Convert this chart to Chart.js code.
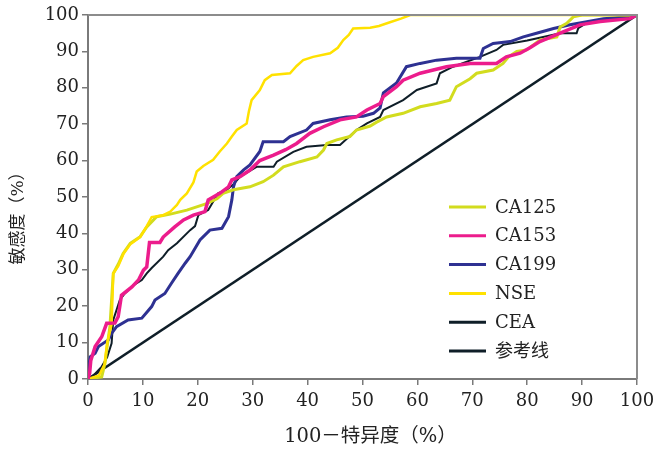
<!DOCTYPE html>
<html><head><meta charset="utf-8">
<script src="https://cdn.jsdelivr.net/npm/chart.js@4.4.0/dist/chart.umd.min.js"></script>
<style>html,body{margin:0;padding:0;background:#fff}</style>
</head><body>
<canvas id="c" width="657" height="451"></canvas>
<script>
const axisTicks = [0,10,20,30,40,50,60,70,80,90,100];
const xTitle = '100－特异度（%）';
const yTitle = '敏感度（%）';

const ca125X = [0,2.5,3.1,3.4,4,4.6,5.5,6.4,7.7,9.5,10.7,12.5,15,18,21.6,23.5,24.6,26.5,29.5,31.9,33.8,35.6,38.6,41.7,42.9,43.5,45.3,47.7,48.9,51.4,52.5,54.4,57.4,60.5,63.5,65.9,67.1,69.6,70.8,73.8,75.6,76.6,78.1,79.9,82.3,85.4,86,87.2,88.4,90,100];
const ca125Y = [0,0.6,4.3,8,14.4,29,31.5,34.5,37.3,39.1,41.8,44.6,45.3,46.4,48.2,49.5,51,52,52.8,54.2,56,58.3,59.7,61,62.9,64.7,65.7,66.6,68.4,69.5,70.5,72,73,74.8,75.7,76.6,80.3,82.5,84,84.9,86.7,88.5,90,90.4,93.1,94,96.7,97.7,99.5,100,100];

const ca153X = [0,0.3,0.5,1.3,2.5,3.4,4.9,5.5,6.1,8,9.2,10.1,10.7,11.2,13.1,13.7,15.8,17.4,19.2,21.3,21.9,24,25.6,26.2,27.7,29.5,31.3,33.8,36,38,40.4,42.9,45.9,48.9,50.8,53.2,53.8,56.2,57.4,60.5,65.3,69.6,74.4,76.2,78.7,80.5,82.3,86,89.6,93.3,98.7,100];
const ca153Y = [0,1.5,5,8.9,11.6,15.3,15.4,17.1,23,25.3,27.2,29.9,30.8,37.5,37.5,39,41.8,43.7,45,46,49.2,51,52.8,54.7,55.6,57.4,60,61.5,63,64.7,67.5,69.3,71.2,72,73.9,75.7,77.6,80.3,82.1,84,85.8,86.7,86.7,88.5,89.5,91,92.7,95,97.3,98.2,99,100];

const ca199X = [0,0.1,0.4,1.3,1.9,3.7,4.3,5.2,7.3,9.8,11.6,12.2,14,15.2,16.4,17.7,18.6,20.4,22.2,24.4,25.6,26.2,26.5,27.1,28.3,29.5,31.3,31.9,35.6,36.8,39.8,41,44.1,47.1,50.1,52,53.2,53.8,56.2,58,60.5,63.5,67.1,71.4,72,73.8,76.9,79.3,81.7,84.8,87.8,93.9,98.7,100];
const ca199Y = [0,3,6.1,7.1,8.9,10.7,12.5,14.4,16.2,16.7,19.9,21.7,23.5,26.3,29,31.8,33.6,38.2,40.9,41.4,44.6,49.2,52.8,55.6,57.4,58.8,62.5,65.2,65.2,66.6,68.4,70.2,71.2,72,72.2,73,74.5,78.6,81.3,85.8,86.7,87.6,88.1,88.1,90.8,92.2,92.7,94,95,96.3,97.3,99,99.5,100];

const nseX = [0,2,3,3.5,4.3,4.6,5.5,6.5,7.7,9.5,10.7,11.6,13.7,15,16.2,16.8,18,19.2,19.8,21,22.8,24,25.3,26.2,27.1,28.9,29.3,29.8,31.3,32.2,33.5,36.8,38,39.2,41,44.1,45.5,46.5,47.5,48.3,51.4,53,55,57,58.7,100];
const nseY = [0,1,4,10,15,29,31,34.5,37,39,42,44.5,45,46,47.8,49.2,51,54,57,58.5,60.2,62.5,64.7,66.6,68.4,70.2,73.5,76.6,79.4,82.1,83.5,84,86,87.6,88.5,89.5,91,93.1,94.5,96.3,96.5,97,98,99,100,100];

const ceaX = [0,1,2.5,3.5,4.3,4.6,5.8,6.7,8.3,9.8,10.7,11.6,13.7,14.6,16.2,18.6,19.5,20.1,21.9,23.7,25.3,26.5,27.7,30.7,33.8,34.4,37.4,39.8,43.5,45.9,47.5,48.9,50.8,53.2,53.8,57.4,59.9,63.5,64.1,66.5,71.4,74.4,75.6,80,86,89,89.3,91,95,100];
const ceaY = [0,1,3.4,6,9.8,16.2,21.7,23.5,25.8,27.2,29,30.5,33.6,35.4,37.3,40.9,42,45,46.4,51,52,53.5,55.6,58.3,58.3,59.7,62.4,63.8,64.3,64.3,66.5,68.4,70.2,72,73.9,76.6,79.4,81.2,84,85.8,88.5,90.4,91.8,93,95,95,96.4,98,99,100];

const refX = [0,100];
const refY = [0,100];

const pts = (xs, ys) => xs.map((x, i) => ({x, y: ys[i]}));

const serif = "'DejaVu Serif', 'Liberation Serif', serif";
const cjk = "'DejaVu Serif', 'Noto Sans CJK SC', serif";

const decorPlugin = {
  id: 'decor',
  afterDraw(chart) {
    const ctx = chart.ctx;
    const a = chart.chartArea;
    ctx.save();
    ctx.strokeStyle = '#8c8c8c';
    ctx.lineWidth = 2;
    ctx.beginPath();
    ctx.moveTo(a.left, a.top); ctx.lineTo(a.right, a.top); ctx.lineTo(a.right, a.bottom);
    ctx.stroke();
    ctx.fillStyle = '#222';
    ctx.textAlign = 'center';
    ctx.textBaseline = 'middle';
    // x title
    ctx.font = "19.5px " + cjk;
    ctx.fillText(xTitle, (a.left + a.right) / 2 + 8, a.bottom + 58);
    // y title
    ctx.save();
    ctx.translate(19, a.top + 199);
    ctx.rotate(-Math.PI / 2);
    ctx.font = "17px " + cjk;
    ctx.fillText(yTitle, 0, 0);
    ctx.restore();
    // legend
    const x0 = a.left + 361, x1 = a.left + 398, tx = a.left + 407;
    const y0 = a.top + 192, dy = 28.8;
    ctx.font = "18px " + cjk;
    ctx.textAlign = 'left';
    chart.data.datasets.forEach((ds, i) => {
      const y = y0 + i * dy;
      ctx.strokeStyle = ds.borderColor;
      ctx.lineWidth = 3;
      ctx.beginPath(); ctx.moveTo(x0, y); ctx.lineTo(x1, y); ctx.stroke();
      ctx.fillStyle = '#222';
      ctx.fillText(ds.label, tx, y + 1);
    });
    ctx.restore();
  }
};

new Chart(document.getElementById('c'), {
  type: 'line',
  data: {
    datasets: [
      {label: 'CA125', data: pts(ca125X, ca125Y), borderColor: '#d2dc1e', borderWidth: 3, order: 3},
      {label: 'CA153', data: pts(ca153X, ca153Y), borderColor: '#ec1c8c', borderWidth: 3.5, order: 1},
      {label: 'CA199', data: pts(ca199X, ca199Y), borderColor: '#2e3192', borderWidth: 3, order: 4},
      {label: 'NSE', data: pts(nseX, nseY), borderColor: '#ffe100', borderWidth: 2.5, order: 2},
      {label: 'CEA', data: pts(ceaX, ceaY), borderColor: '#0f1e28', borderWidth: 2, order: 5},
      {label: '参考线', data: pts(refX, refY), borderColor: '#0f1e28', borderWidth: 2.5, order: 6}
    ]
  },
  options: {
    responsive: false,
    animation: false,
    elements: { point: { radius: 0 }, line: { tension: 0, fill: false } },
    layout: { padding: { left: 0, right: 20, top: 15, bottom: 0 } },
    plugins: { legend: { display: false }, tooltip: { enabled: false } },
    scales: {
      x: {
        type: 'linear', min: 0, max: 100,
        afterFit: s => { s.height = 72; s.paddingRight = 0; s.paddingLeft = 0; },
        afterBuildTicks: s => { s.ticks = axisTicks.map(v => ({value: v})); },
        grid: { drawOnChartArea: false, drawTicks: true, tickLength: 6, color: '#7a7a7a', lineWidth: 1.5 },
        border: { color: '#7a7a7a', width: 2 },
        ticks: { color: '#222', font: { family: serif, size: 18 }, padding: 6, maxRotation: 0 },
        title: { display: false }
      },
      y: {
        type: 'linear', min: 0, max: 100,
        afterFit: s => { s.width = 88; s.paddingTop = 0; s.paddingBottom = 0; },
        afterBuildTicks: s => { s.ticks = axisTicks.map(v => ({value: v})); },
        grid: { drawOnChartArea: false, drawTicks: true, tickLength: 6, color: '#7a7a7a', lineWidth: 1.5 },
        border: { color: '#7a7a7a', width: 2 },
        ticks: { color: '#222', font: { family: serif, size: 18 }, padding: 3 },
        title: { display: false }
      }
    }
  },
  plugins: [decorPlugin]
});
</script>
</body></html>
